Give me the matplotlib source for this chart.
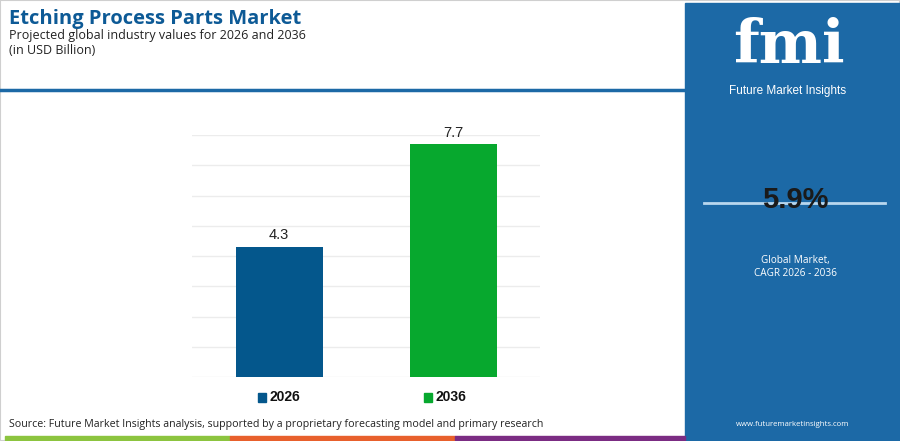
import matplotlib.pyplot as plt
from matplotlib.patches import Rectangle

years = ["2026", "2036"]
values = [4.3, 7.7]
colors = ["#04578c", "#07a82e"]
cagr = "5.9%"
title = "Etching Process Parts Market"
subtitle = "Projected global industry values for 2026 and 2036"
unit = "(in USD Billion)"
source = "Source: Future Market Insights analysis, supported by a proprietary forecasting model and primary research"

plt.rcParams["font.family"] = ["Open Sans", "DejaVu Sans"]

fig = plt.figure(figsize=(9, 4.41), dpi=100)
W, H = 900, 441


def fx(x):
    return x / W


def fy(y):
    return 1 - y / H


# outer border
fig.add_artist(Rectangle((0, 0), 1, 1, transform=fig.transFigure,
                         fill=False, edgecolor="#cfcfcf", lw=1.5))

# right blue panel
fig.add_artist(Rectangle((fx(685), 0), fx(900) - fx(685), fy(3),
                         transform=fig.transFigure, color="#1c69a6", zorder=1))

# header line
fig.add_artist(plt.Line2D([0, fx(685)], [fy(90), fy(90)], transform=fig.transFigure,
                          color="#1c69a6", lw=2.5))

# bottom colour strip
for x0, x1, c in [(5, 230, "#8cc43f"), (230, 455, "#e8602c"), (455, 685, "#7b2c83")]:
    fig.add_artist(Rectangle((fx(x0), fy(440)), fx(x1) - fx(x0), 4 / H,
                             transform=fig.transFigure, color=c))

# titles
fig.text(fx(9), fy(19), title, fontsize=14.5, fontweight="bold", color="#0d5a96",
         va="center", ha="left")
fig.text(fx(9), fy(35), subtitle, fontsize=9, color="#222222", va="center")
fig.text(fx(9), fy(51), unit, fontsize=9, color="#222222", va="center")

# bar chart
ax = fig.add_axes([fx(192), fy(377), fx(540) - fx(192), fy(135) - fy(377)])
x = range(len(years))
bars = ax.bar(x, values, width=0.5, color=colors, zorder=3)
ax.set_xlim(-0.5, 1.5)
ax.set_ylim(0, 8)
ax.set_yticks(range(0, 9))
ax.grid(axis="y", color="#ececec", lw=1, zorder=0)
ax.tick_params(left=False, bottom=False, labelleft=False, labelbottom=False)
for s in ax.spines.values():
    s.set_visible(False)
for b, v in zip(bars, values):
    ax.text(b.get_x() + b.get_width() / 2, v + 0.15, f"{v}", ha="center", va="bottom",
            fontsize=10.5, color="#222222", family="Liberation Sans")

# legend
for xs, yr, c in [(258, years[0], colors[0]), (424, years[1], colors[1])]:
    fig.add_artist(Rectangle((fx(xs), fy(402)), 8 / W, 9 / H,
                             transform=fig.transFigure, color=c))
    fig.text(fx(xs + 11), fy(397), yr, fontsize=10, fontweight="bold",
             color="#111111", va="center", family="Liberation Sans")

# source
fig.text(fx(9), fy(425), source, fontsize=7.7, color="#222222", va="center")

# right panel content
fig.text(fx(789), fy(46), "fmi", fontsize=43, fontweight="bold", color="white",
         ha="center", va="center", family="DejaVu Serif")
fig.text(fx(788), fy(91), "Future Market Insights", fontsize=8.5, color="white",
         ha="center", va="center", family="Liberation Sans")
fig.add_artist(plt.Line2D([fx(704), fx(885)], [fy(203), fy(203)], transform=fig.transFigure,
                          color="#b9d7ee", lw=2))
fig.text(fx(795), fy(200), cagr, fontsize=21, fontweight="bold", color="#1a1a1a",
         ha="center", va="center", family="Liberation Sans")
fig.text(fx(795), fy(260), "Global Market,", fontsize=7.2, color="white", ha="center", va="center")
fig.text(fx(795), fy(273), "CAGR 2026 - 2036", fontsize=7.2, color="white", ha="center", va="center")
fig.text(fx(793), fy(425), "www.futuremarketinsights.com", fontsize=5.6, color="white",
         ha="center", va="center")

fig.savefig("out.png", dpi=100)
